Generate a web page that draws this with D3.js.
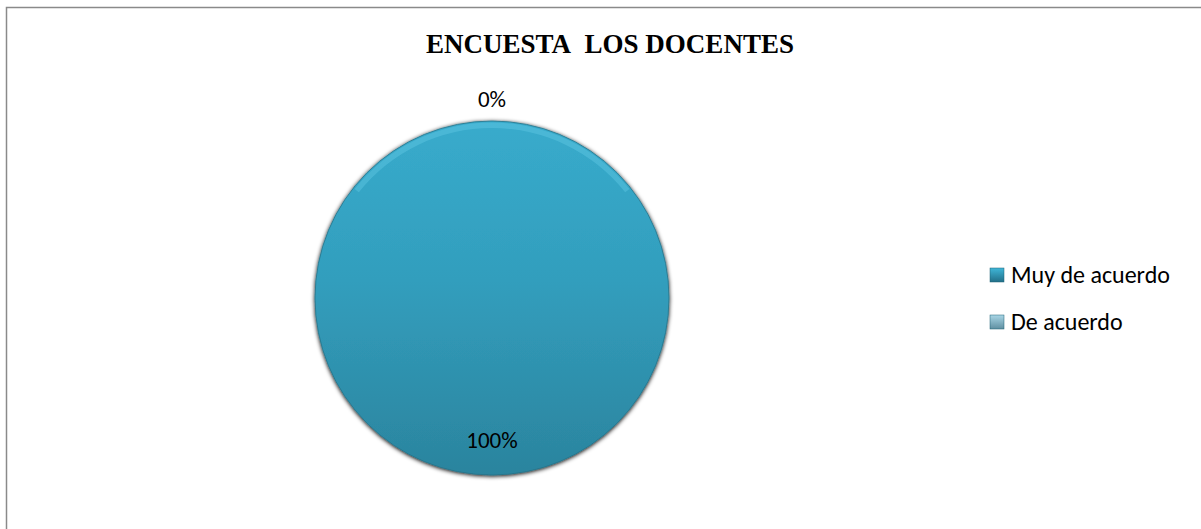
<!DOCTYPE html>
<html>
<head>
<meta charset="utf-8">
<script src="https://cdn.jsdelivr.net/npm/d3@7"></script>
<style>
  body { margin: 0; background: #fff; }
  svg { display: block; }
</style>
</head>
<body>
<div id="chart"></div>
<script>
// data
var categories = ["Muy de acuerdo", "De acuerdo"];
var values = [100, 0];
var chartTitle = "ENCUESTA\u00a0\u00a0LOS DOCENTES";

var width = 1201, height = 529;
var cx = 492, cy = 298, radius = 177;

var svg = d3.select("#chart")
    .append("svg")
    .attr("width", width)
    .attr("height", height);

var defs = svg.append("defs");

// vertical gradient for the big slice
var g1 = defs.append("linearGradient")
    .attr("id", "grad0")
    .attr("x1", 0).attr("y1", 0).attr("x2", 0).attr("y2", 1);
g1.append("stop").attr("offset", "0%").attr("stop-color", "#38abcc");
g1.append("stop").attr("offset", "45%").attr("stop-color", "#329ebd");
g1.append("stop").attr("offset", "100%").attr("stop-color", "#2b849e");

var g2 = defs.append("linearGradient")
    .attr("id", "grad1")
    .attr("x1", 0).attr("y1", 0).attr("x2", 0).attr("y2", 1);
g2.append("stop").attr("offset", "0%").attr("stop-color", "#9cc8d8");
g2.append("stop").attr("offset", "100%").attr("stop-color", "#6a9fb3");

var lg0 = defs.append("linearGradient")
    .attr("id", "leg0")
    .attr("x1", 0).attr("y1", 0).attr("x2", 0).attr("y2", 1);
lg0.append("stop").attr("offset", "0%").attr("stop-color", "#3fb6d8");
lg0.append("stop").attr("offset", "100%").attr("stop-color", "#226f88");

var lg1 = defs.append("linearGradient")
    .attr("id", "leg1")
    .attr("x1", 0).attr("y1", 0).attr("x2", 0).attr("y2", 1);
lg1.append("stop").attr("offset", "0%").attr("stop-color", "#a9d6e6");
lg1.append("stop").attr("offset", "100%").attr("stop-color", "#5f8fa1");

var fills = ["url(#grad0)", "url(#grad1)"];
var legendFills = ["url(#leg0)", "url(#leg1)"];

// soft shadow around the pie
var shadow = defs.append("filter")
    .attr("id", "shadow")
    .attr("x", "-10%").attr("y", "-10%")
    .attr("width", "120%").attr("height", "120%");
shadow.append("feGaussianBlur").attr("in", "SourceAlpha").attr("stdDeviation", 2);
shadow.append("feOffset").attr("dx", 0).attr("dy", 1).attr("result", "blur");
var merge = shadow.append("feMerge");
merge.append("feMergeNode").attr("in", "blur");
merge.append("feMergeNode").attr("in", "SourceGraphic");

// outer frame
svg.append("rect")
    .attr("x", 6.5)
    .attr("y", 7.5)
    .attr("width", width + 10)
    .attr("height", height + 10)
    .attr("fill", "none")
    .attr("stroke", "#8a8a8a")
    .attr("stroke-width", 1.5);

// title
svg.append("text")
    .attr("x", 610)
    .attr("y", 53)
    .attr("text-anchor", "middle")
    .style("font-family", "'Liberation Serif', 'Times New Roman', serif")
    .style("font-weight", "bold")
    .style("font-size", "27px")
    .text(chartTitle);

var pie = d3.pie().sort(null);
var arcs = pie(values);

var arc = d3.arc().innerRadius(0).outerRadius(radius);
var labelArc = d3.arc().innerRadius(radius * 0.8).outerRadius(radius * 0.8);
var outArc = d3.arc().innerRadius(radius + 22).outerRadius(radius + 22);

var pieG = svg.append("g")
    .attr("transform", "translate(" + cx + "," + cy + ")");

pieG.selectAll("path.slice")
    .data(arcs)
    .enter()
    .append("path")
    .attr("class", "slice")
    .attr("d", arc)
    .attr("fill", function(d, i) { return fills[i]; })
    .attr("stroke", "#25758c")
    .attr("stroke-width", 0.8)
    .attr("filter", "url(#shadow)");

// light rim at the top of the pie
pieG.append("path")
    .attr("d", d3.arc().innerRadius(radius - 7).outerRadius(radius - 1.5)
        .startAngle(-0.9).endAngle(0.9)())
    .attr("fill", "#6cd0ea")
    .attr("opacity", 0.35);

var total = d3.sum(values);
var fmt = function(v) { return Math.round(v / total * 100) + "%"; };

pieG.selectAll("text.lbl")
    .data(arcs)
    .enter()
    .append("text")
    .attr("class", "lbl")
    .attr("transform", function(d) {
        var c = (d.endAngle - d.startAngle) > Math.PI ? labelArc.centroid(d) : outArc.centroid(d);
        return "translate(" + c + ")";
    })
    .attr("text-anchor", "middle")
    .attr("dy", "0.35em")
    .style("font-family", "Carlito, 'Noto Sans', sans-serif")
    .style("font-size", "23px")
    .attr("fill", "#000")
    .text(function(d) { return fmt(d.value); });

// legend
var legend = svg.append("g")
    .attr("transform", "translate(990,275)");

var rows = legend.selectAll("g")
    .data(categories)
    .enter()
    .append("g")
    .attr("transform", function(d, i) { return "translate(0," + (i * 47) + ")"; });

rows.append("rect")
    .attr("x", 0)
    .attr("y", -7)
    .attr("width", 14)
    .attr("height", 14)
    .attr("fill", function(d, i) { return legendFills[i]; })
    .attr("stroke", "#1d6175")
    .attr("stroke-width", 0.5);

rows.append("text")
    .attr("x", 21)
    .attr("y", 0)
    .attr("dy", "0.35em")
    .style("font-family", "Carlito, 'Noto Sans', sans-serif")
    .style("font-size", "24px")
    .attr("fill", "#000")
    .text(function(d) { return d; });
</script>
</body>
</html>
